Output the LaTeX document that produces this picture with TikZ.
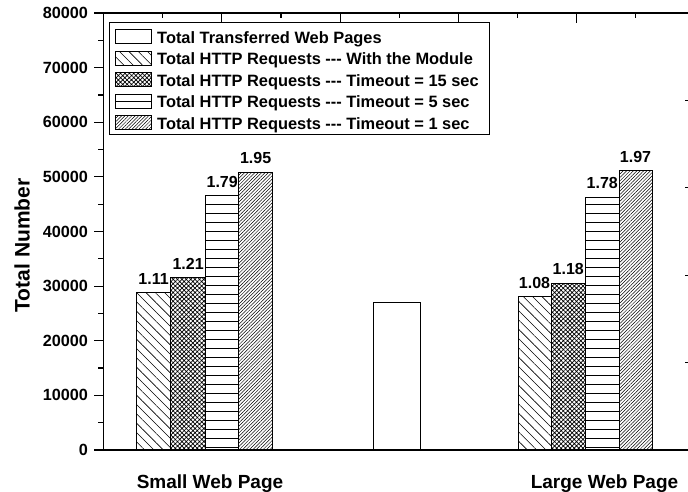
\documentclass[tikz,border=0pt]{standalone}
\usepackage{fontspec}
\setmainfont{Liberation Sans}
\usetikzlibrary{patterns.meta}
\tikzset{
  frame/.style={line width=1.6pt},
  tickmark/.style={line width=1.2pt},
  bar/.style={draw=black,line width=1pt},
  plainbar/.style={bar,fill=white},
  modulebar/.style={bar,pattern={Lines[angle=-45,distance=6.6pt,line width=0.6pt]}},
  crossbar/.style={bar,pattern={Hatch[angle=45,distance=3.1pt,line width=0.7pt]}},
  densebar/.style={bar,pattern={Lines[angle=45,distance=2.4pt,line width=0.5pt]}},
  hline/.style={line width=0.8pt},
  ticklab/.style={font=\bfseries\fontsize{16.2}{18}\selectfont,anchor=east,inner sep=0pt},
  vallab/.style={font=\bfseries\fontsize{16}{18}\selectfont,anchor=base,inner sep=0pt},
  leglab/.style={font=\bfseries\fontsize{16.4}{18}\selectfont,anchor=base west,inner sep=0pt},
  catlab/.style={font=\bfseries\fontsize{19}{22}\selectfont,anchor=base,inner sep=0pt},
}
\newcommand{\horizbar}[3]{%
  \begin{scope}
    \clip (#1,450) rectangle (#2,#3);
    \foreach \k in {0,...,30}
      \draw[hline] (#1,{447.5-9*\k}) -- (#2,{447.5-9*\k});
  \end{scope}
  \draw[bar] (#1,450) rectangle (#2,#3);
}
% three separate hyphens, kept apart from the font's dash ligatures
\newcommand{\trihyphen}{-{}-{}-}
\begin{document}
\begin{tikzpicture}[x=1pt,y=-1pt]
\useasboundingbox[fill=white] (0,0) rectangle (688,492);

% bars: small web page
\draw[modulebar] (136.7,450) rectangle (170.5,292.7);
\draw[crossbar]  (170.5,450) rectangle (205.7,277.3);
\horizbar{205.7}{238.7}{195.7}
\draw[densebar]  (238.7,450) rectangle (272.5,172.7);

% transferred web pages
\draw[plainbar] (373.7,450) rectangle (420,302);

% bars: large web page
\draw[modulebar] (518,450) rectangle (551,296.7);
\draw[crossbar]  (551,450) rectangle (585.6,283.3);
\horizbar{585.6}{619}{197.3}
\draw[densebar]  (619,450) rectangle (652,170.7);

% value labels
\node[vallab] (v111) at (153.6,284.7) {1.11};
\node[vallab] (v121) at (188.1,269.3) {1.21};
\node[vallab] (v179) at (222.2,187.2) {1.79};
\node[vallab] (v195) at (255.6,163.7) {1.95};
\node[vallab] (v108) at (534.5,288.2) {1.08};
\node[vallab] (v118) at (568.3,274.8) {1.18};
\node[vallab] (v178) at (602.3,188.8) {1.78};
\node[vallab] (v197) at (635.5,162.2) {1.97};

% axes frame
\draw[frame] (103.5,13) -- (700,13);
\draw[frame] (103.5,450) -- (700,450);
\draw[frame] (103.5,12.2) -- (103.5,450.8);

% left axis ticks and labels
\foreach \k in {0,...,8}
  \draw[tickmark] (94,{450-54.625*\k}) -- (103.5,{450-54.625*\k});
\foreach \k in {0,...,7}
  \draw[tickmark] (98,{450-54.625*\k-27.31}) -- (103.5,{450-54.625*\k-27.31});
\node[ticklab] (t0) at (88,450) {0};
\node[ticklab] (t1) at (88,395.4) {10000};
\node[ticklab] (t2) at (88,340.8) {20000};
\node[ticklab] (t3) at (88,286.1) {30000};
\node[ticklab] (t4) at (88,231.5) {40000};
\node[ticklab] (t5) at (88,176.9) {50000};
\node[ticklab] (t6) at (88,122.3) {60000};
\node[ticklab] (t7) at (88,67.6) {70000};
\node[ticklab] (t8) at (88,13) {80000};

% top axis ticks
\foreach \k in {2,4,6,8}
  \draw[tickmark] ({103.5+59.15*\k},13) -- ({103.5+59.15*\k},23);
\foreach \k in {1,3,5,7,9}
  \draw[tickmark] ({103.5+59.15*\k},13) -- ({103.5+59.15*\k},18.5);

% right axis ticks
\foreach \k in {1,...,4}
  \draw[tickmark] (685,{450-87.4*\k}) -- (690,{450-87.4*\k});

% axis titles
\node[catlab,rotate=90,font=\bfseries\fontsize{21}{24}\selectfont] (ytitle) at (29.5,245.5) {Total Number};
\node[catlab] (small) at (210,488) {Small Web Page};
\node[catlab] (large) at (604.5,488) {Large Web Page};

% legend
\draw[line width=1pt,fill=white] (109,23) rectangle (489,135);
\draw[plainbar]  (115.7,30) rectangle (151.7,44);
\draw[modulebar] (115.7,51.5) rectangle (151.7,65.5);
\draw[crossbar]  (115.7,72.9) rectangle (151.7,86.9);
\draw[bar]       (115.7,94.4) rectangle (151.7,108.4);
\draw[hline]     (115.7,101.4) -- (151.7,101.4);
\draw[densebar]  (115.7,115.8) rectangle (151.7,129.8);
\node[leglab] (l1) at (157,43.3)  {Total Transferred Web Pages};
\node[leglab] (l2) at (157,64.8)  {Total HTTP Requests \trihyphen{} With the Module};
\node[leglab] (l3) at (157,86.2)  {Total HTTP Requests \trihyphen{} Timeout = 15 sec};
\node[leglab] (l4) at (157,107.7) {Total HTTP Requests \trihyphen{} Timeout = 5 sec};
\node[leglab] (l5) at (157,129.1) {Total HTTP Requests \trihyphen{} Timeout = 1 sec};
\end{tikzpicture}
\end{document}
